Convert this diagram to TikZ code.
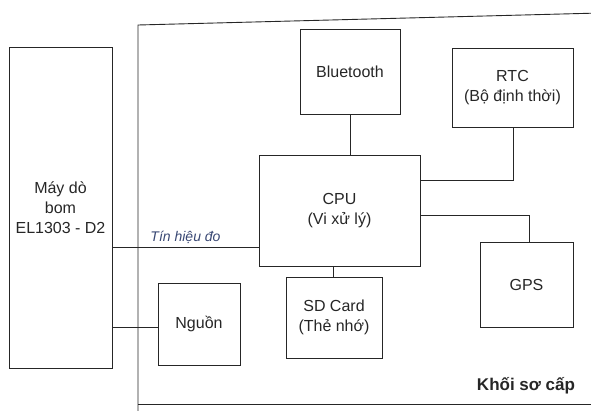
\documentclass[tikz,border=0pt]{standalone}
\usepackage{fontspec}
\setmainfont{Liberation Sans}
\definecolor{sigcol}{rgb}{0.22,0.28,0.45}
\begin{document}
\begin{tikzpicture}[x=1pt,y=-1pt,
  box/.style={draw=black!85, line width=0.9pt, inner sep=0pt, align=center, font=\fontsize{16}{20}\selectfont, text=black!85},
  conn/.style={draw=black!85, line width=0.9pt}]
\useasboundingbox (0,0) rectangle (591,410);
% outer block (open to the right)
\draw[conn] (600,13) -- (138,25) -- (138,412);
\draw[conn] (138,404) -- (600,404);
\node[font=\bfseries\fontsize{17}{20}\selectfont, text=black!85] (khoi) at (526,386) {Khối sơ cấp};
% nodes
\node[box, minimum width=103pt, minimum height=321pt] (may) at (60.5,207.5) {Máy dò\\bom\\EL1303 - D2};
\node[box, minimum width=100pt, minimum height=85pt] (bt) at (350,71.5) {Bluetooth};
\node[box, minimum width=121pt, minimum height=79pt] (rtc) at (512.5,87.5) {RTC\\(Bộ định thời)};
\node[box, minimum width=161pt, minimum height=111pt] (cpu) at (339.5,210.5) {CPU\\(Vi xử lý)};
\node[box, minimum width=93pt, minimum height=85pt] (gps) at (526.5,284.5) {GPS};
\node[box, minimum width=96pt, minimum height=81pt] (sd) at (334,317.5) {SD Card\\(Thẻ nhớ)};
\node[box, minimum width=82pt, minimum height=82pt] (nguon) at (199,324) {Nguồn};
% helper coordinates
\coordinate (ysig) at (0,247);
\coordinate (ypow) at (0,327);
\coordinate (yrtc) at (0,180);
\coordinate (ygps) at (0,215);
\coordinate (xrtc) at (513,0);
\coordinate (xgps) at (529,0);
\coordinate (xsd) at (333,0);
% connectors
\draw[conn] (may.east |- ysig) -- node[above, pos=0.5, inner sep=3pt, font=\itshape\fontsize{14}{16}\selectfont, text=sigcol] {Tín hiệu đo} (cpu.west |- ysig);
\draw[conn] (may.east |- ypow) -- (nguon.west |- ypow);
\draw[conn] (bt.south) -- (cpu.north -| bt.south);
\draw[conn] (rtc.south -| xrtc) |- (cpu.east |- yrtc);
\draw[conn] (cpu.east |- ygps) -| (gps.north -| xgps);
\draw[conn] (cpu.south -| xsd) -- (sd.north -| xsd);
\end{tikzpicture}
\end{document}
